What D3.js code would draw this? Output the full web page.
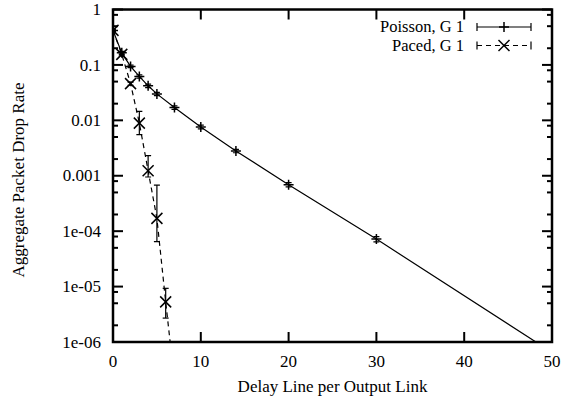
<!DOCTYPE html>
<html>
<head>
<meta charset="utf-8">
<script src="https://cdn.jsdelivr.net/npm/d3@7/dist/d3.min.js"></script>
<style>
  html, body { margin: 0; padding: 0; background: #fff; }
  svg { display: block; }
</style>
</head>
<body>
<svg id="chart" width="565" height="404"></svg>
<script>
// Delay line length per output link
const poissonX = [0, 1, 2, 3, 4, 5, 7, 10, 14, 20, 30, 50];
const poissonY = [0.42, 0.165, 0.094, 0.062, 0.042, 0.030, 0.017, 0.0076, 0.0028, 0.00069, 0.000072, 0.00000065];
const poissonLo = [0.40, 0.155, 0.089, 0.058, 0.039, 0.028, 0.0158, 0.0070, 0.0026, 0.00063, 0.000064, 0.0000005];
const poissonHi = [0.44, 0.175, 0.099, 0.066, 0.045, 0.032, 0.0182, 0.0082, 0.0030, 0.00075, 0.000080, 0.0000008];

const pacedX = [0, 1, 2, 3, 4, 5, 6, 7];
const pacedY = [0.42, 0.155, 0.046, 0.0089, 0.00123, 0.00017, 0.0000053, 0.0000002];
const pacedLo = [0.40, 0.145, 0.043, 0.0055, 0.00095, 0.000065, 0.0000027, 0.0000001];
const pacedHi = [0.44, 0.165, 0.049, 0.0145, 0.0023, 0.00068, 0.0000093, 0.0000003];

const xTicks = [0, 10, 20, 30, 40, 50];
const yTicks = [1, 0.1, 0.01, 0.001, 1e-4, 1e-5, 1e-6];
const yTickLabels = ["1", "0.1", "0.01", "0.001", "1e-04", "1e-05", "1e-06"];
const yMinorMantissas = [2, 5, 8];

const seriesNames = ["Poisson, G 1", "Paced, G 1"];

const FONT = "'Liberation Serif', 'Times New Roman', Times, 'Nimbus Roman', 'DejaVu Serif', serif";
const FS = 17;

const svg = d3.select("#chart").attr("font-family", FONT);
const L = 113, R = 552, T = 9.5, B = 342;

const x = d3.scaleLinear().domain([0, 50]).range([L, R]);
const y = d3.scaleLog().domain([1e-6, 1]).range([B, T]);

svg.append("defs").append("clipPath").attr("id", "plotclip")
  .append("rect").attr("x", L).attr("y", T).attr("width", R - L).attr("height", B - T);

// Minor y ticks (both sides)
const minorVals = [];
for (let e = -6; e < 0; e++) {
  yMinorMantissas.forEach(m => minorVals.push(m * Math.pow(10, e)));
}
const tickG = svg.append("g").attr("stroke", "#000").attr("stroke-width", 2);
minorVals.forEach(v => {
  const yy = y(v);
  tickG.append("line").attr("x1", L).attr("x2", L + 5).attr("y1", yy).attr("y2", yy);
  tickG.append("line").attr("x1", R).attr("x2", R - 5).attr("y1", yy).attr("y2", yy);
});
// Major y ticks
yTicks.forEach(v => {
  const yy = y(v);
  tickG.append("line").attr("x1", L).attr("x2", L + 10).attr("y1", yy).attr("y2", yy);
  tickG.append("line").attr("x1", R).attr("x2", R - 10).attr("y1", yy).attr("y2", yy);
});
// Major x ticks (bottom and top)
xTicks.forEach(v => {
  const xx = x(v);
  tickG.append("line").attr("x1", xx).attr("x2", xx).attr("y1", B).attr("y2", B - 10);
  tickG.append("line").attr("x1", xx).attr("x2", xx).attr("y1", T).attr("y2", T + 10);
});

// Tick labels
svg.append("g").selectAll("text").data(yTicks).join("text")
  .attr("x", L - 12).attr("y", d => y(d)).attr("dy", "0.33em")
  .attr("text-anchor", "end").attr("font-size", FS)
  .text((d, i) => yTickLabels[i]);
svg.append("g").selectAll("text").data(xTicks).join("text")
  .attr("x", d => x(d)).attr("y", B + 19).attr("dy", "0.33em")
  .attr("text-anchor", "middle").attr("font-size", FS)
  .text(d => d);

// Axis titles
svg.append("text").attr("x", (L + R) / 2).attr("y", 386).attr("dy", "0.33em")
  .attr("text-anchor", "middle").attr("font-size", FS).text("Delay Line per Output Link");
svg.append("text").attr("transform", "translate(18,180) rotate(-90)")
  .attr("dy", "0.33em").attr("text-anchor", "middle").attr("font-size", FS)
  .text("Aggregate Packet Drop Rate");

// Data
const plot = svg.append("g").attr("clip-path", "url(#plotclip)");

function drawSeries(xs, ys, lo, hi, dash, marker) {
  const pts = xs.map((d, i) => ({ x: d, y: ys[i], lo: lo[i], hi: hi[i] }));
  const line = d3.line().x(d => x(d.x)).y(d => y(d.y));
  plot.append("path").datum(pts).attr("d", line)
    .attr("fill", "none").attr("stroke", "#000").attr("stroke-width", 1.2)
    .attr("stroke-dasharray", dash);
  const g = plot.append("g").attr("stroke", "#000").attr("stroke-width", 1.2).attr("fill", "none");
  pts.forEach(p => {
    const px = x(p.x);
    g.append("line").attr("x1", px).attr("x2", px).attr("y1", y(p.lo)).attr("y2", y(p.hi));
    g.append("line").attr("x1", px - 3).attr("x2", px + 3).attr("y1", y(p.lo)).attr("y2", y(p.lo));
    g.append("line").attr("x1", px - 3).attr("x2", px + 3).attr("y1", y(p.hi)).attr("y2", y(p.hi));
    marker(g, px, y(p.y));
  });
}
function plus(g, cx, cy) {
  const s = 5;
  g.append("line").attr("x1", cx - s).attr("x2", cx + s).attr("y1", cy).attr("y2", cy).attr("stroke-width", 1.5);
  g.append("line").attr("x1", cx).attr("x2", cx).attr("y1", cy - s).attr("y2", cy + s).attr("stroke-width", 1.5);
}
function cross(g, cx, cy) {
  const s = 5.5;
  g.append("line").attr("x1", cx - s).attr("x2", cx + s).attr("y1", cy - s).attr("y2", cy + s).attr("stroke-width", 1.5);
  g.append("line").attr("x1", cx - s).attr("x2", cx + s).attr("y1", cy + s).attr("y2", cy - s).attr("stroke-width", 1.5);
}

drawSeries(poissonX, poissonY, poissonLo, poissonHi, null, plus);
drawSeries(pacedX, pacedY, pacedLo, pacedHi, "5,4", cross);

// Frame
svg.append("rect").attr("x", L).attr("y", T).attr("width", R - L).attr("height", B - T)
  .attr("fill", "none").attr("stroke", "#000").attr("stroke-width", 2.5);

// Legend
const legend = svg.append("g");
const legendRows = [
  { name: seriesNames[0], dash: null, marker: plus, y: 27 },
  { name: seriesNames[1], dash: "5,4", marker: cross, y: 45.5 }
];
const lx1 = 477, lx2 = 531;
legendRows.forEach(r => {
  legend.append("text").attr("x", 464).attr("y", r.y).attr("dy", "0.33em")
    .attr("text-anchor", "end").attr("font-size", 16.5).text(r.name);
  const g = legend.append("g").attr("stroke", "#000").attr("stroke-width", 1.2);
  g.append("line").attr("x1", lx1).attr("x2", lx2).attr("y1", r.y).attr("y2", r.y)
    .attr("stroke-dasharray", r.dash);
  g.append("line").attr("x1", lx1).attr("x2", lx1).attr("y1", r.y - 4).attr("y2", r.y + 4);
  g.append("line").attr("x1", lx2).attr("x2", lx2).attr("y1", r.y - 4).attr("y2", r.y + 4);
  r.marker(g, (lx1 + lx2) / 2, r.y);
});
</script>
</body>
</html>
